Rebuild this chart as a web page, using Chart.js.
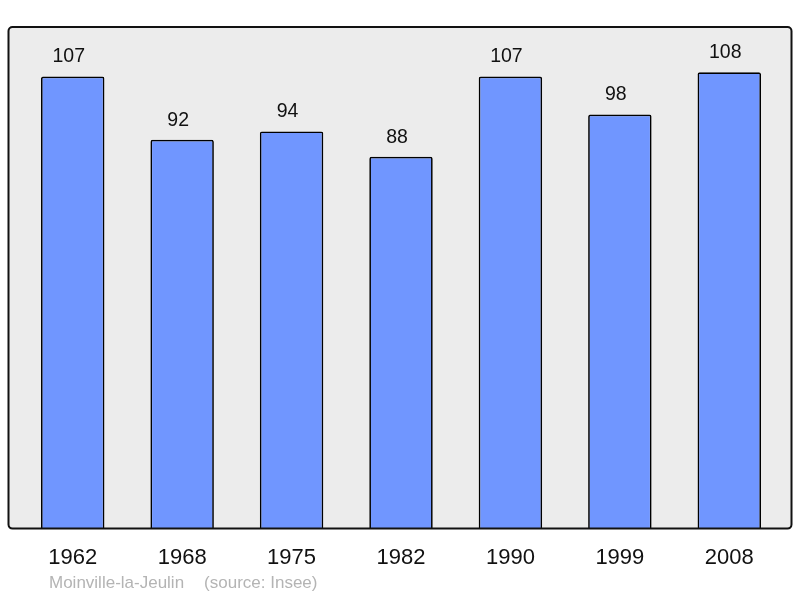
<!DOCTYPE html>
<html>
<head>
<meta charset="utf-8">
<script src="https://cdn.jsdelivr.net/npm/chart.js@4"></script>
<style>
  html, body { margin: 0; padding: 0; background: #fff; }
  #wrap { position: relative; width: 800px; height: 598px; }
  #note { position: absolute; left: 49px; top: 573px; font: 17px "Liberation Sans", Arial, sans-serif; color: #b4b4b4; white-space: pre; }
  #note span { margin-left: 20px; }
</style>
</head>
<body>
<div id="wrap">
  <canvas id="popChart" width="800" height="598"></canvas>
  <div id="note">Moinville-la-Jeulin<span>(source: Insee)</span></div>
</div>
<script>
// Population by census year
const years = ['1962', '1968', '1975', '1982', '1990', '1999', '2008'];
const population = [107, 92, 94, 88, 107, 98, 108];
const yMax = 118.7;

// grey rounded panel behind the bars
const panelPlugin = {
    id: 'panel',
    beforeDatasetsDraw(chart) {
        const a = chart.chartArea;
        const ctx = chart.ctx;
        const x0 = a.left - 9.5, x1 = a.right + 7.5;
        ctx.save();
        ctx.beginPath();
        ctx.roundRect(x0, a.top, x1 - x0, a.bottom - a.top, 4);
        ctx.fillStyle = '#ececec';
        ctx.fill();
        ctx.restore();
    },
    afterDatasetsDraw(chart) {
        const a = chart.chartArea;
        const ctx = chart.ctx;
        const x0 = a.left - 9.5, x1 = a.right + 7.5;
        ctx.save();
        ctx.beginPath();
        ctx.roundRect(x0, a.top, x1 - x0, a.bottom - a.top, 4);
        ctx.lineWidth = 2;
        ctx.strokeStyle = '#111';
        ctx.stroke();

        // value labels above each bar
        const meta = chart.getDatasetMeta(0);
        ctx.fillStyle = '#111';
        ctx.font = '19.5px "Liberation Sans", Arial, sans-serif';
        ctx.textAlign = 'center';
        ctx.textBaseline = 'alphabetic';
        meta.data.forEach((bar, i) => {
            ctx.fillText(String(population[i]), bar.x - 4, bar.y - 14);
        });
        ctx.restore();
    }
};

document.addEventListener('DOMContentLoaded', function() {
    const ctx = document.getElementById('popChart').getContext('2d');
    window.popChart = new Chart(ctx, {
        type: 'bar',
        data: {
            labels: years,
            datasets: [{
                data: population,
                backgroundColor: '#7096ff',
                borderColor: '#000',
                borderWidth: 1.7,
                borderRadius: 2,
                borderSkipped: 'bottom',
                barPercentage: 0.58,
                categoryPercentage: 1
            }]
        },
        options: {
            responsive: false,
            animation: false,
            layout: {
                padding: { left: 18, right: 16, top: 27, bottom: 11 }
            },
            plugins: {
                legend: { display: false },
                tooltip: { enabled: false }
            },
            scales: {
                x: {
                    grid: { display: false, drawTicks: false },
                    border: { display: false },
                    ticks: {
                        color: '#111',
                        padding: 16,
                        font: { family: '"Liberation Sans", Arial, sans-serif', size: 22 }
                    }
                },
                y: {
                    display: false,
                    min: 0,
                    max: yMax
                }
            }
        },
        plugins: [panelPlugin]
    });
});
</script>
</body>
</html>
